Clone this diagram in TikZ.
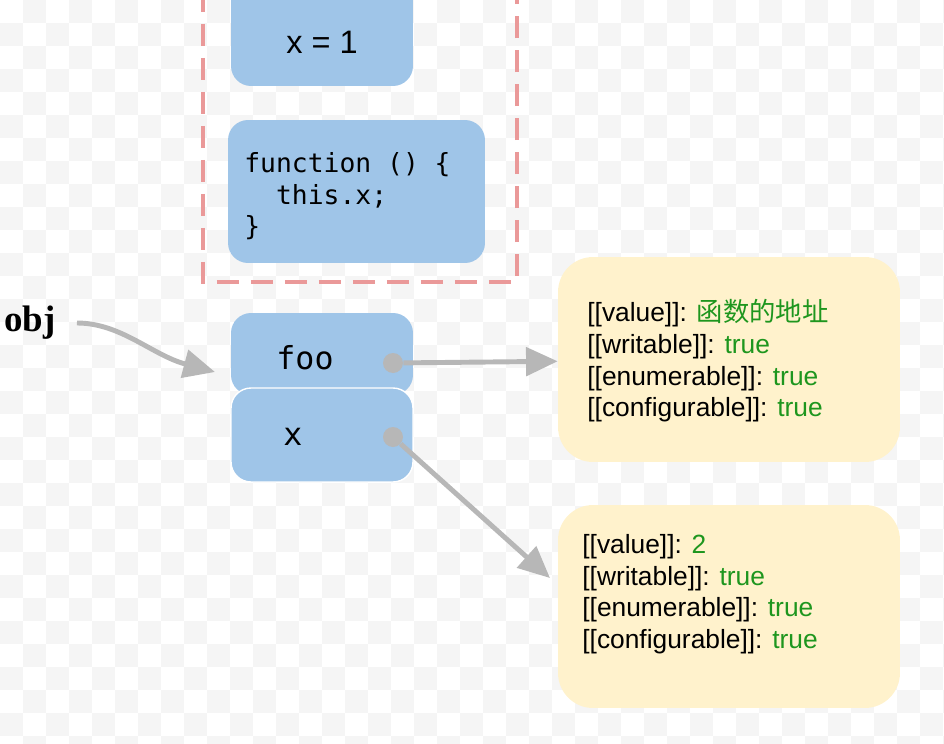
\documentclass[tikz,border=0pt]{standalone}
\usepackage{fontspec}
\setmainfont{Liberation Sans}
\setmonofont{DejaVu Sans Mono}
\newfontfamily\cjk{Noto Sans CJK SC}
\newfontfamily\objfont{Liberation Serif}
\usetikzlibrary{arrows.meta,positioning}
\definecolor{cellblue}{HTML}{9FC5E8}
\definecolor{descyellow}{HTML}{FFF2CC}
\definecolor{framered}{HTML}{EA9999}
\definecolor{ptrgray}{HTML}{B7B7B7}
\definecolor{valgreen}{RGB}{30,150,30}
\definecolor{checkergray}{HTML}{F5F5F5}
\newcommand{\val}[1]{\textcolor{valgreen}{#1}}
\newcommand{\attr}[1]{{[}[#1]]: }
\newcommand{\ttsp}{\hphantom{0}}

\begin{document}
\begin{tikzpicture}[x=0.02cm,y=-0.02cm,
memcell/.style={fill=cellblue,rounded corners=0.4cm,minimum width=3.64cm,inner sep=0pt},
descbox/.style={fill=descyellow,rounded corners=0.7cm,minimum width=6.84cm},
desctext/.style={anchor=west,align=left,inner sep=0pt,font=\fontsize{15pt}{18pt}\selectfont},
celltext/.style={font=\ttfamily\fontsize{18pt}{20pt}\selectfont,inner sep=0pt},
ptr/.style={-{Triangle[length=18pt,width=16pt]},line width=2.8pt,draw=ptrgray},
dot/.style={circle,fill=ptrgray,minimum size=0.4cm,inner sep=0pt}]
\useasboundingbox (0,0) rectangle (944,744);
% transparent background grid
\foreach \i in {0,...,41}{\foreach \j in {0,...,32}{
  \pgfmathtruncatemacro\k{mod(\i+\j,2)}
  \ifnum\k=1 \fill[checkergray] (\i*23,\j*23) rectangle ++(23,23);\fi}}
% function object in heap
\draw[framered,line width=2.3pt,dash pattern=on 0.44cm off 0.24cm] (203,-10) -- (203,282) -- (517,282) -- (517,-10);
\node[memcell,minimum height=2.12cm] (xone) at (322,33) {};
\node[inner sep=0pt,font=\fontsize{18.5pt}{20pt}\selectfont] (xonelbl) at (322,42) {x = 1};
\node[memcell,minimum width=5.14cm,minimum height=2.86cm] (func) at (356.5,191.5) {};
\node[anchor=west,align=left,inner sep=0pt,font=\ttfamily\fontsize{15pt}{17.9pt}\selectfont] (funclbl) at (244,196.5)
  {function\ttsp()\ttsp\{\\\ttsp\ttsp this.x;\\\}};
% obj
\node[memcell,minimum height=1.64cm] (foo) at (322,354) {};
\node[memcell,minimum height=1.88cm,draw=white,line width=0.8pt] (x) at (322,435) {};
\node[celltext] (foolbl) at (305,358) {foo};
\node[celltext] (xlbl) at (293,437) {x};
\node[dot] (foodot) at (393,363) {};
\node[dot] (xdot) at (393,437) {};
\node[font=\objfont\bfseries\fontsize{21pt}{24pt}\selectfont,inner sep=0pt] (obj) at (30,323) {obj};
\coordinate (objtip) at (215,372);
\coordinate (xtip) at (550,578);
% property descriptors
\node[descbox,minimum height=4.1cm] (val1) at (729,359.5) {};
\node[desctext] (val1txt) at (587,361) {\attr{value}\val{\cjk 函数的地址}\\\attr{writable}\val{true}\\\attr{enumerable}\val{true}\\\attr{configurable}\val{true}};
\node[descbox,minimum height=4.06cm] (val2) at (729,606.5) {};
\node[desctext] (val2txt) at (582,594) {\attr{value}\val{2}\\\attr{writable}\val{true}\\\attr{enumerable}\val{true}\\\attr{configurable}\val{true}};
% pointers
\draw[ptr,shorten <=0.42cm] (obj.east) to[out=0,in=165] (objtip);
\draw[ptr] (foodot) -- (val1);
\draw[ptr] (xdot) -- (xtip);
\end{tikzpicture}
\end{document}
